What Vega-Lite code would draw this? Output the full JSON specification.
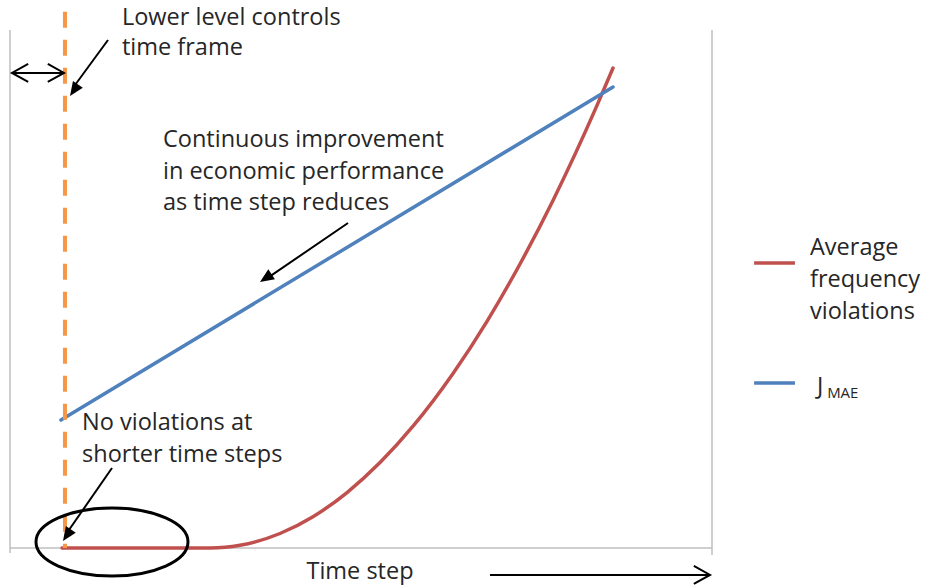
{
  "$schema": "https://vega.github.io/schema/vega-lite/v6.json",
  "width": 702,
  "height": 518,
  "autosize": {"type": "none"},
  "padding": {"left": 10, "top": 30, "right": 213, "bottom": 38},
  "background": "white",
  "config": {"view": {"stroke": null}, "text": {"font": "Open Sans", "fontSize": 23.5, "color": "#262626"}},
  "datasets": {
    "frame": [
      {"x": 0, "y": 100, "x2": 0, "y2": -0.97},
      {"x": 0, "y": 0, "x2": 100, "y2": 0},
      {"x": 100, "y": 100, "x2": 100, "y2": -1.35}
    ],
    "curves": [
      {"series": "Average frequency violations", "t": 7.41, "v": 0},
      {"series": "Average frequency violations", "t": 19.94, "v": 0},
      {"series": "Average frequency violations", "t": 28.49, "v": 0},
      {"series": "Average frequency violations", "t": 30.63, "v": 0.13},
      {"series": "Average frequency violations", "t": 32.76, "v": 0.52},
      {"series": "Average frequency violations", "t": 38.46, "v": 2.8},
      {"series": "Average frequency violations", "t": 43.16, "v": 6.04},
      {"series": "Average frequency violations", "t": 48.01, "v": 10.71},
      {"series": "Average frequency violations", "t": 52.71, "v": 16.49},
      {"series": "Average frequency violations", "t": 57.41, "v": 23.51},
      {"series": "Average frequency violations", "t": 63.11, "v": 33.69},
      {"series": "Average frequency violations", "t": 67.95, "v": 43.76},
      {"series": "Average frequency violations", "t": 72.65, "v": 54.83},
      {"series": "Average frequency violations", "t": 77.35, "v": 67.1},
      {"series": "Average frequency violations", "t": 83.62, "v": 85.44},
      {"series": "Average frequency violations", "t": 85.9, "v": 92.66},
      {"series": "JMAE", "t": 7.26, "v": 24.71},
      {"series": "JMAE", "t": 85.9, "v": 89.0}
    ],
    "arrows": [
      {"x": 0.28, "y": 91.7, "x2": 7.69, "y2": 91.7},
      {"x": 13.96, "y": 98.07, "x2": 8.9, "y2": 88.7},
      {"x": 48.15, "y": 62.74, "x2": 36.5, "y2": 51.95},
      {"x": 14.53, "y": 15.44, "x2": 8.0, "y2": 2.7},
      {"x": 68.38, "y": -5.21, "x2": 99.72, "y2": -5.21}
    ],
    "heads": [
      {"x": 8.55, "y": 87.26, "angle": 124.2},
      {"x": 35.61, "y": 51.35, "angle": 146.2},
      {"x": 7.55, "y": 1.35, "angle": 123.9}
    ],
    "chevrons": [
      {"x": 0.28, "y": 91.7, "angle": 180},
      {"x": 7.69, "y": 91.7, "angle": 0},
      {"x": 99.72, "y": -5.21, "angle": 0}
    ],
    "labels": [
      {"x": 15.95, "y": 102.3, "text": "Lower level controls"},
      {"x": 15.95, "y": 96.5, "text": "time frame"},
      {"x": 21.79, "y": 78.76, "text": "Continuous improvement"},
      {"x": 21.79, "y": 72.59, "text": "in economic performance"},
      {"x": 21.79, "y": 66.6, "text": "as time step reduces"},
      {"x": 10.26, "y": 24.13, "text": "No violations at"},
      {"x": 10.26, "y": 17.95, "text": "shorter time steps"},
      {"x": 113.96, "y": 57.92, "text": "Average"},
      {"x": 113.96, "y": 51.74, "text": "frequency"},
      {"x": 113.96, "y": 45.56, "text": "violations"},
      {"x": 114.96, "y": 31.08, "text": "J"}
    ],
    "legendLines": [
      {"series": "Average frequency violations", "x": 106.0, "x2": 111.82, "y": 55.02},
      {"series": "JMAE", "x": 106.0, "x2": 111.82, "y": 31.85}
    ]
  },
  "layer": [
    {
      "data": {"name": "frame"},
      "mark": {"type": "rule", "color": "#BFBFBF", "strokeWidth": 1.5},
      "encoding": {
        "x": {"field": "x", "type": "quantitative", "scale": {"domain": [0, 100], "nice": false, "zero": false}, "axis": null},
        "y": {"field": "y", "type": "quantitative", "scale": {"domain": [0, 100], "nice": false, "zero": false}, "axis": null},
        "x2": {"field": "x2"},
        "y2": {"field": "y2"}
      }
    },
    {
      "data": {"name": "curves"},
      "mark": {"type": "line", "strokeWidth": 3.5, "interpolate": "monotone", "strokeCap": "round"},
      "encoding": {
        "x": {"field": "t", "type": "quantitative"},
        "y": {"field": "v", "type": "quantitative"},
        "color": {"field": "series", "type": "nominal", "scale": {"domain": ["Average frequency violations", "JMAE"], "range": ["#C0504D", "#4F81BD"]}, "legend": null}
      }
    },
    {
      "data": {"values": [{"x": 7.83, "y": 103.5, "y2": 0}]},
      "mark": {"type": "rule", "color": "#F79646", "strokeWidth": 4, "strokeDash": [16, 12], "strokeCap": "butt"},
      "encoding": {
        "x": {"field": "x", "type": "quantitative"},
        "y": {"field": "y", "type": "quantitative"},
        "y2": {"field": "y2"}
      }
    },
    {
      "data": {"name": "arrows"},
      "mark": {"type": "rule", "color": "#000000", "strokeWidth": 2},
      "encoding": {
        "x": {"field": "x", "type": "quantitative"},
        "y": {"field": "y", "type": "quantitative"},
        "x2": {"field": "x2"},
        "y2": {"field": "y2"}
      }
    },
    {
      "data": {"name": "heads"},
      "mark": {"type": "point", "shape": "M0,0L-2,-0.85L-2,0.85Z", "filled": true, "color": "#000000", "opacity": 1, "size": 196},
      "encoding": {
        "x": {"field": "x", "type": "quantitative"},
        "y": {"field": "y", "type": "quantitative"},
        "angle": {"field": "angle", "type": "quantitative", "scale": null}
      }
    },
    {
      "data": {"name": "chevrons"},
      "mark": {"type": "point", "shape": "M-1.8,-1L0,0L-1.8,1", "filled": false, "color": "#000000", "opacity": 1, "strokeWidth": 2, "size": 324},
      "encoding": {
        "x": {"field": "x", "type": "quantitative"},
        "y": {"field": "y", "type": "quantitative"},
        "angle": {"field": "angle", "type": "quantitative", "scale": null}
      }
    },
    {
      "data": {"values": [{"x": 14.53, "y": 1.16}]},
      "mark": {"type": "point", "shape": "M-1,0A1,0.447,0,1,0,1,0A1,0.447,0,1,0,-1,0Z", "filled": false, "color": "#000000", "opacity": 1, "strokeWidth": 3, "size": 23104},
      "encoding": {
        "x": {"field": "x", "type": "quantitative"},
        "y": {"field": "y", "type": "quantitative"}
      }
    },
    {
      "data": {"name": "legendLines"},
      "mark": {"type": "rule", "strokeWidth": 3.5},
      "encoding": {
        "x": {"field": "x", "type": "quantitative"},
        "x2": {"field": "x2"},
        "y": {"field": "y", "type": "quantitative"},
        "color": {"field": "series", "type": "nominal", "legend": null}
      }
    },
    {
      "data": {"name": "labels"},
      "mark": {"type": "text", "align": "left", "baseline": "middle"},
      "encoding": {
        "x": {"field": "x", "type": "quantitative"},
        "y": {"field": "y", "type": "quantitative"},
        "text": {"field": "text"}
      }
    },
    {
      "data": {"values": [{"x": 49.86, "y": -4.63, "text": "Time step"}]},
      "mark": {"type": "text", "align": "center", "baseline": "middle"},
      "encoding": {
        "x": {"field": "x", "type": "quantitative"},
        "y": {"field": "y", "type": "quantitative"},
        "text": {"field": "text"}
      }
    },
    {
      "data": {"values": [{"x": 116.4, "y": 30.0, "text": "MAE"}]},
      "mark": {"type": "text", "align": "left", "baseline": "middle", "fontSize": 15},
      "encoding": {
        "x": {"field": "x", "type": "quantitative"},
        "y": {"field": "y", "type": "quantitative"},
        "text": {"field": "text"}
      }
    }
  ]
}
